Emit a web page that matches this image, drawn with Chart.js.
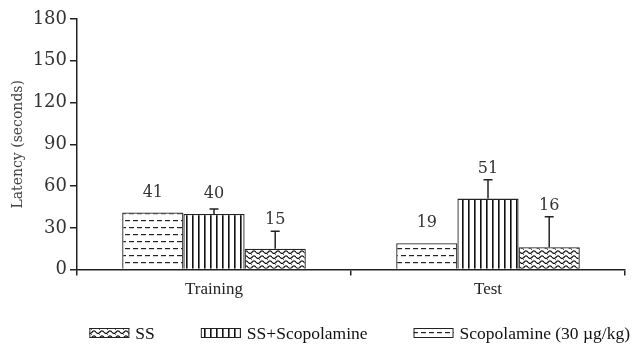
<!DOCTYPE html>
<html>
<head>
<meta charset="utf-8">
<script src="https://cdn.jsdelivr.net/npm/chart.js@4/dist/chart.umd.min.js"></script>
<style>
  body { margin: 0; background: #fff; }
  #wrap { width: 632px; height: 344px; }
</style>
</head>
<body>
<div id="wrap"><canvas id="c"></canvas></div>
<script>
// data
const groups = ['Training', 'Test']
const seriesNames = ['Scopolamine (30 \u00b5g/kg)', 'SS+Scopolamine', 'SS']
const scopolamine = [41, 19]
const ssScopolamine = [40, 51]
const ss = [15, 16]
// upward error (seconds) above each bar
const scopolamineErr = [0, 0]
const ssScopolamineErr = [3.5, 13.5]
const ssErr = [12.5, 22]
const yTicks = [0, 30, 60, 90, 120, 150, 180]

// hatch fills like the printed figure
function makePattern(kind) {
    const cv = document.createElement('canvas')
    const c = cv.getContext('2d')
    if (kind === 'dash') {
        cv.width = 16; cv.height = 14
        c.fillStyle = '#fff'; c.fillRect(0, 0, 16, 14)
        c.fillStyle = '#222'
        c.fillRect(1, 3, 5, 1.2); c.fillRect(9, 3, 5, 1.2)
        c.fillRect(5, 10, 5, 1.2); c.fillRect(13, 10, 3, 1.2); c.fillRect(0, 10, 2, 1.2)
    } else if (kind === 'vert') {
        cv.width = 6; cv.height = 4
        c.fillStyle = '#fff'; c.fillRect(0, 0, 6, 4)
        c.fillStyle = '#111'
        c.fillRect(0, 0, 1.6, 4)
    } else {
        cv.width = 8; cv.height = 5
        c.fillStyle = '#fff'; c.fillRect(0, 0, 8, 5)
        c.strokeStyle = '#111'; c.lineWidth = 1.2
        c.beginPath()
        for (let x = 0; x <= 8; x += 0.5) {
            const y = 2.2 + 1.3 * Math.sin(x / 8 * Math.PI * 2)
            if (x === 0) c.moveTo(x, y); else c.lineTo(x, y)
        }
        c.stroke()
        c.fillStyle = '#333'
        c.fillRect(3, 4.2, 1, 0.8)
    }
    return document.getElementById('c').getContext('2d').createPattern(cv, 'repeat')
}

const errorBars = {
    id: 'errorBars',
    afterDatasetsDraw(chart) {
        const ctx = chart.ctx
        const y = chart.scales.y
        ctx.save()
        chart.data.datasets.forEach((ds, i) => {
            const meta = chart.getDatasetMeta(i)
            meta.data.forEach((bar, j) => {
                const v = ds.data[j]
                const e = ds.err[j]
                const top = y.getPixelForValue(v)
                const errTop = y.getPixelForValue(v + e)
                if (e > 0) {
                    ctx.strokeStyle = '#222'
                    ctx.lineWidth = 1.5
                    ctx.beginPath()
                    ctx.moveTo(bar.x, top)
                    ctx.lineTo(bar.x, errTop)
                    ctx.moveTo(bar.x - 4.5, errTop)
                    ctx.lineTo(bar.x + 4.5, errTop)
                    ctx.stroke()
                }
                let ly = top - 20
                if (e > 0) ly = Math.min(ly, errTop - 11)
                ctx.fillStyle = '#333'
                ctx.font = '16px "DejaVu Serif"'
                ctx.textAlign = 'center'
                ctx.textBaseline = 'middle'
                ctx.fillText(String(v), bar.x, ly)
            })
        })
        ctx.restore()
    }
}

// legend drawn by hand: the printed one sits right of centre, in reverse order
const bottomLegend = {
    id: 'bottomLegend',
    afterDraw(chart) {
        const ctx = chart.ctx
        ctx.save()
        ctx.font = '17.5px "Liberation Serif"'
        ctx.textBaseline = 'middle'
        ctx.textAlign = 'left'
        const boxW = 40, boxH = 10, textGap = 6, itemGap = 46
        const items = chart.data.datasets.map(d => d).reverse()
        const widths = items.map(d => boxW + textGap + ctx.measureText(d.label).width)
        const total = widths.reduce((a, b) => a + b, 0) + itemGap * (items.length - 1)
        let x = chart.width - 2 - total
        const cy = chart.height - 11
        items.forEach((d, i) => {
            ctx.fillStyle = d.backgroundColor
            ctx.fillRect(x, cy - boxH / 2, boxW, boxH)
            ctx.strokeStyle = '#222'
            ctx.lineWidth = 1
            ctx.strokeRect(x + 0.5, cy - boxH / 2 + 0.5, boxW - 1, boxH - 1)
            ctx.fillStyle = '#111'
            ctx.fillText(d.label, x + boxW + textGap, cy + 1)
            x += widths[i] + itemGap
        })
        ctx.restore()
    }
}

const ctx = document.getElementById('c').getContext('2d')
new Chart(ctx, {
    type: 'bar',
    data: {
        labels: groups,
        datasets: [
            { label: seriesNames[0], data: scopolamine, err: scopolamineErr, backgroundColor: makePattern('dash') },
            { label: seriesNames[1], data: ssScopolamine, err: ssScopolamineErr, backgroundColor: makePattern('vert') },
            { label: seriesNames[2], data: ss, err: ssErr, backgroundColor: makePattern('wave') }
        ].map(d => Object.assign(d, { borderColor: '#222', borderWidth: 1.3, barPercentage: 1, categoryPercentage: 0.67 }))
    },
    options: {
        responsive: true,
        maintainAspectRatio: false,
        animation: false,
        layout: { padding: { top: 19, right: 7, left: 0, bottom: 40 } },
        plugins: {
            legend: { display: false },
            tooltip: { enabled: false }
        },
        scales: {
            x: {
                grid: { drawOnChartArea: false, drawTicks: true, tickLength: 6, color: '#222', lineWidth: 1.5 },
                border: { color: '#222', width: 1.5 },
                ticks: { color: '#222', padding: 4, font: { family: '"Liberation Serif"', size: 17 } }
            },
            y: {
                min: 0,
                max: 180,
                afterBuildTicks: (s) => { s.ticks = yTicks.map(v => ({ value: v })) },
                afterFit: (s) => { s.width = 77 },
                grid: { drawOnChartArea: false, drawTicks: true, tickLength: 7, color: '#222', lineWidth: 1.5 },
                border: { color: '#222', width: 1.5 },
                ticks: { color: '#333', padding: 3, font: { family: '"DejaVu Serif"', size: 18 } },
                title: {
                    display: true,
                    text: 'Latency (seconds)',
                    color: '#444',
                    padding: { top: 10, bottom: 0 },
                    font: { family: '"DejaVu Serif"', size: 14 }
                }
            }
        }
    },
    plugins: [errorBars, bottomLegend]
})
</script>
</body>
</html>
